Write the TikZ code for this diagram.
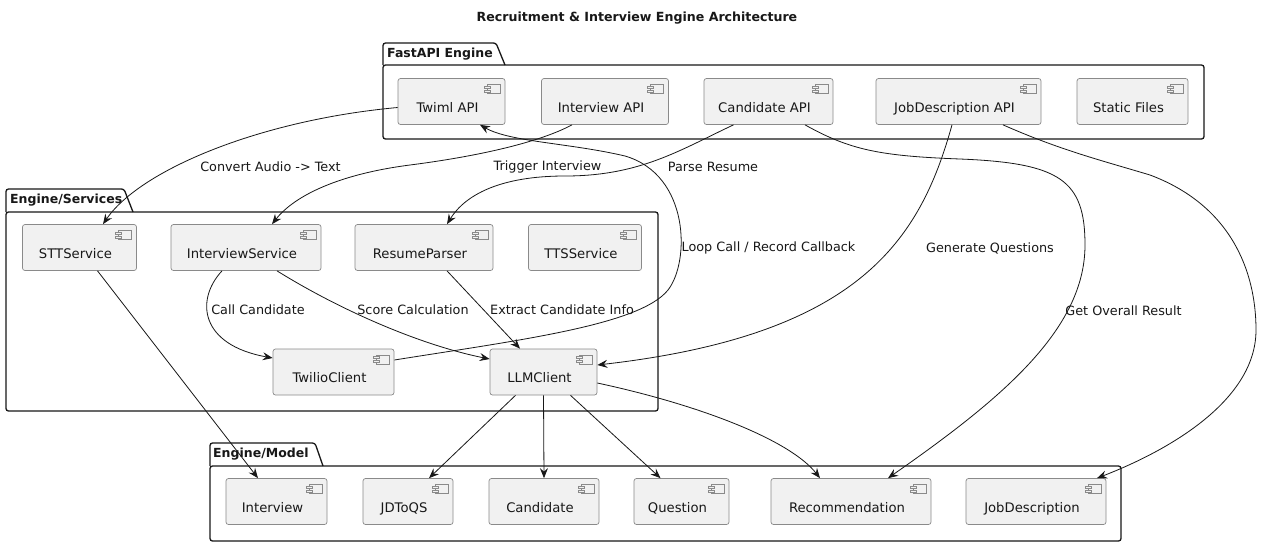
\documentclass[tikz,border=0pt]{standalone}
\usepackage{fontspec}
\setmainfont{DejaVu Sans}
\usetikzlibrary{arrows.meta,calc}
\definecolor{compfill}{HTML}{F1F1F1}
\definecolor{compdraw}{HTML}{8A8A8A}
\definecolor{ink}{HTML}{181818}
\tikzset{
  comp/.style={draw=compdraw, fill=compfill, line width=0.7pt, rounded corners=2.5pt,
    minimum height=46pt, inner xsep=0pt, inner ysep=0pt, text height=33.5pt, text depth=12.5pt,
    font=\fontsize{13.2}{15}\selectfont, text=ink, execute at end node={\hspace*{8pt}},
    path picture={
      \draw[sharp corners, draw=compdraw, line width=0.6pt] ([shift={(-18pt,-6pt)}]path picture bounding box.north east) rectangle ++(13pt,-9pt);
      \draw[sharp corners, draw=compdraw, fill=compfill, line width=0.6pt] ([shift={(-21pt,-7.5pt)}]path picture bounding box.north east) rectangle ++(6pt,-2pt);
      \draw[sharp corners, draw=compdraw, fill=compfill, line width=0.6pt] ([shift={(-21pt,-11.5pt)}]path picture bounding box.north east) rectangle ++(6pt,-2pt);
    }},
  pkg/.style={draw=ink, line width=1.3pt, rounded corners=2.5pt},
  pkglabel/.style={font=\bfseries\fontsize{12.5}{14}\selectfont, text=ink, anchor=west, inner sep=0pt},
  lbl/.style={font=\fontsize{12.8}{14}\selectfont, text=ink, inner sep=0pt},
  edge/.style={draw=ink, line width=0.8pt, -{Stealth[length=10pt,width=8pt,inset=3.5pt]}},
}
\begin{document}
\begin{tikzpicture}[x=1pt,y=-1pt]
\useasboundingbox (0,0) rectangle (1284,547);
\fill[white] (0,0) rectangle (1284,547);
% title
\node[font=\bfseries\fontsize{12.6}{14}\selectfont, text=ink] (title) at (637,18) {Recruitment \& Interview Engine Architecture};
% packages
\draw[pkg] (383,65) -- (383,43) -- (496,43) -- (505,65);
\draw[pkg] (383,65) rectangle (1204,139);
\node[pkglabel] (pfast) at (387,54.5) {FastAPI Engine};
\draw[pkg] (6,212) -- (6,189) -- (124,189) -- (133,212);
\draw[pkg] (6,212) rectangle (658,411);
\node[pkglabel] (psvc) at (10,200.5) {Engine/Services};
\draw[pkg] (210,466) -- (210,443) -- (315,443) -- (323,466);
\draw[pkg] (210,466) rectangle (1121,541);
\node[pkglabel] (pmod) at (213,454.5) {Engine/Model};
% components
\node[comp, minimum width=107pt] (twiml) at (451.5,101.5) {Twiml API};
\node[comp, minimum width=127pt] (iapi) at (605,101.5) {Interview API};
\node[comp, minimum width=129pt] (capi) at (768.5,101.5) {Candidate API};
\node[comp, minimum width=165pt] (jdapi) at (958.5,101.5) {JobDescription API};
\node[comp, minimum width=111pt] (static) at (1132.5,101.5) {Static Files};
\node[comp, minimum width=114pt] (stt) at (79.5,247.5) {STTService};
\node[comp, minimum width=150pt] (isvc) at (246,247.5) {InterviewService};
\node[comp, minimum width=138pt] (resume) at (424,247.5) {ResumeParser};
\node[comp, minimum width=113pt] (tts) at (585,247.5) {TTSService};
\node[comp, minimum width=121pt] (twilio) at (333.5,372) {TwilioClient};
\node[comp, minimum width=107pt] (llm) at (543.5,372) {LLMClient};
\node[comp, minimum width=101pt] (interview) at (276.5,501.5) {Interview};
\node[comp, minimum width=90pt] (jdtoqs) at (408,501.5) {JDToQS};
\node[comp, minimum width=110pt] (cand) at (544,501.5) {Candidate};
\node[comp, minimum width=95pt] (question) at (681.5,501.5) {Question};
\node[comp, minimum width=160pt] (reco) at (851,501.5) {Recommendation};
\node[comp, minimum width=140pt] (jobdesc) at (1036,501.5) {JobDescription};
% edges
\draw[edge] ($(twiml.west)+(0,6)$) .. controls (260,120) and (140,170) .. ($(stt.north)+(23.5,0)$);
\draw[edge] ($(iapi.south)+(-33,0)$) .. controls (540,142) and (480,156) .. (410,165) .. controls (340,174) and (295,195) .. ($(isvc.north)+(26,0)$);
\draw[edge] ($(capi.south)+(-35,0)$) .. controls (680,150) and (640,176) .. (565,176) .. controls (500,176) and (465,195) .. ($(resume.north)+(23,0)$);
\draw[edge] ($(twilio.east)+(0,-12)$) .. controls (520,340) and (640,325) .. (668,290) .. controls (690,262) and (690,175) .. (625,156) .. controls (570,143) and (510,142) .. ($(twiml.south)+(28.5,0)$);
\draw[edge] ($(isvc.south)+(-24,0)$) .. controls (195,300) and (200,345) .. ($(twilio.west)+(0,-14)$);
\draw[edge] ($(isvc.south)+(31,0)$) .. controls (340,310) and (420,345) .. ($(llm.west)+(0,-13)$);
\draw[edge] ($(resume.south)+(23,0)$) -- ($(llm.north)+(-23.5,0)$);
\draw[edge] ($(jdapi.south)+(-6.5,0)$) .. controls (920,240) and (860,335) .. ($(llm.east)+(0,-7)$);
\draw[edge] ($(capi.south)+(36.5,0)$) .. controls (850,150) and (880,156) .. (960,159) .. controls (1060,163) and (1085,180) .. (1085,245) .. controls (1085,330) and (1000,400) .. ($(reco.north)+(37,0)$);
\draw[edge] ($(jdapi.south)+(44.5,0)$) .. controls (1060,150) and (1100,160) .. (1150,175) .. controls (1230,205) and (1256,270) .. (1256,330) .. controls (1256,400) and (1170,450) .. ($(jobdesc.north)+(61,0)$);
\draw[edge] ($(stt.south)+(18,0)$) -- ($(interview.north)+(-18.5,0)$);
\draw[edge] ($(llm.south)+(-28,0)$) -- ($(jdtoqs.north)+(21,0)$);
\draw[edge] (llm.south) -- (cand.north);
\draw[edge] ($(llm.south)+(27,0)$) -- ($(question.north)+(-21,0)$);
\draw[edge] ($(llm.east)+(0,11)$) .. controls (700,405) and (790,440) .. ($(reco.north)+(-31,0)$);
% edge labels
\node[lbl] (l1) at (270.5,167) {Convert Audio -> Text};
\node[lbl] (l2) at (547.5,167) {Trigger Interview};
\node[lbl] (l3) at (713,167) {Parse Resume};
\node[lbl] (l4) at (768.5,248) {Loop Call / Record Callback};
\node[lbl] (l5) at (258,310) {Call Candidate};
\node[lbl] (l6) at (413,310) {Score Calculation};
\node[lbl] (l7) at (562,310) {Extract Candidate Info};
\node[lbl] (l8) at (990,248) {Generate Questions};
\node[lbl] (l9) at (1123.5,311) {Get Overall Result};
\end{tikzpicture}
\end{document}
